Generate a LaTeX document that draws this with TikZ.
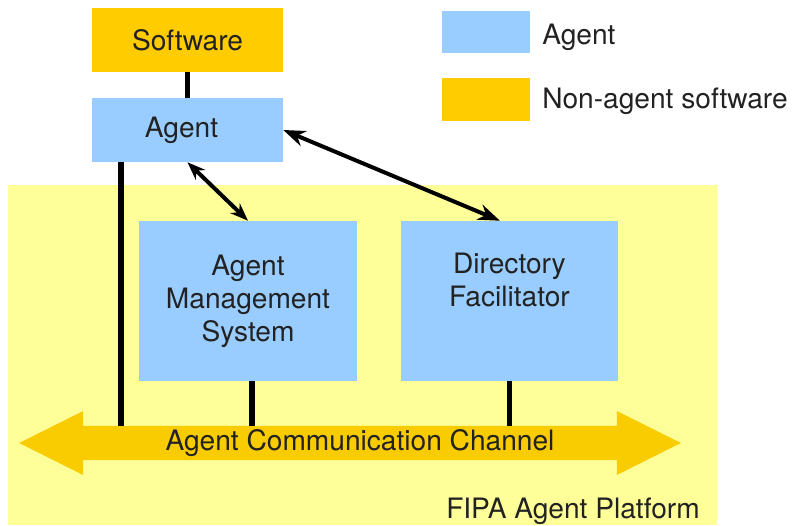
\documentclass[tikz,border=0pt]{standalone}
\usepackage{fontspec}
\setmainfont{TeX Gyre Heros}
\usetikzlibrary{shapes.arrows,arrows.meta}

\definecolor{agentblue}{HTML}{99CCFF}
\definecolor{softorange}{HTML}{FFCC00}
\definecolor{channelorange}{HTML}{F8CC00}
\definecolor{platformyellow}{HTML}{FFFF99}
\definecolor{textgray}{HTML}{222222}

\begin{document}
\begin{tikzpicture}

  \tikzstyle{box} = [inner sep=0, align=center, text=textgray, font=\fontsize{20}{23.5}\selectfont]
  \tikzstyle{agent} = [box, fill=agentblue]
  \tikzstyle{software} = [box, fill=softorange]
  \tikzstyle{channel} = [box, shape=double arrow, fill=channelorange, minimum height=16.55cm, minimum width=1.6cm, double arrow head extend=0.3cm, double arrow tip angle=53]
  \tikzstyle{link} = [line width=0.13cm]
  \tikzstyle{talk} = [line width=0.1cm]

  \useasboundingbox (0,0) rectangle (19.825,13.125);

  \fill[platformyellow] (0.2,0) rectangle (17.925,8.5);
  \node[box, anchor=base east] (FAP) at (17.5,0.175) {FIPA Agent Platform};

  \node[channel] (ACC) at (8.75,2.05) {\hspace{0.5cm}Agent Communication Channel};

  \node[software, minimum width=4.775cm, minimum height=1.6cm] (SW) at (4.6875,12.125) {Software};
  \node[agent, minimum width=4.775cm, minimum height=1.6cm] (AG) at (4.6875,9.875) {Agent\hspace{0.3cm}};
  \node[agent, minimum width=5.45cm, minimum height=4cm] (AMS) at (6.2,5.6) {Agent\\Management\\System};
  \node[agent, minimum width=5.425cm, minimum height=4cm] (DF) at (12.7375,5.6) {Directory\\Facilitator\\[7pt]\mbox{}};

  % legend
  \node[agent, minimum width=2.2cm, minimum height=1.05cm] (keyA) at (12.15,12.325) {};
  \node[software, minimum width=2.2cm, minimum height=1.075cm] (keyS) at (12.15,10.6375) {};
  \node[box, anchor=west] (keyAtext) at (13.55,12.2) {Agent};
  \node[box, anchor=west] (keyStext) at (13.55,10.6) {Non-agent software};

  \draw[link] (SW) -- (AG);
  \draw[link] ([xshift=-1.6625cm]AG.south) -- ([xshift=-1.6625cm]AG.south |- ACC.north);
  \draw[link] ([xshift=0.1cm]AMS.south) -- ([xshift=0.1cm]AMS.south |- ACC.north);
  \draw[link] (DF.south) -- (DF.south |- ACC.north);

  \draw[talk, {Stealth[length=4.5mm,width=3.4mm]}-{Stealth[length=4.5mm,width=3.4mm]}] (AG.south) -- (AMS.north);
  \draw[talk, {Stealth[length=5.5mm,width=4mm]}-{Stealth[length=5.5mm,width=4mm]}] (AG.east) -- ([xshift=-0.24cm]DF.north);

\end{tikzpicture}
\end{document}
